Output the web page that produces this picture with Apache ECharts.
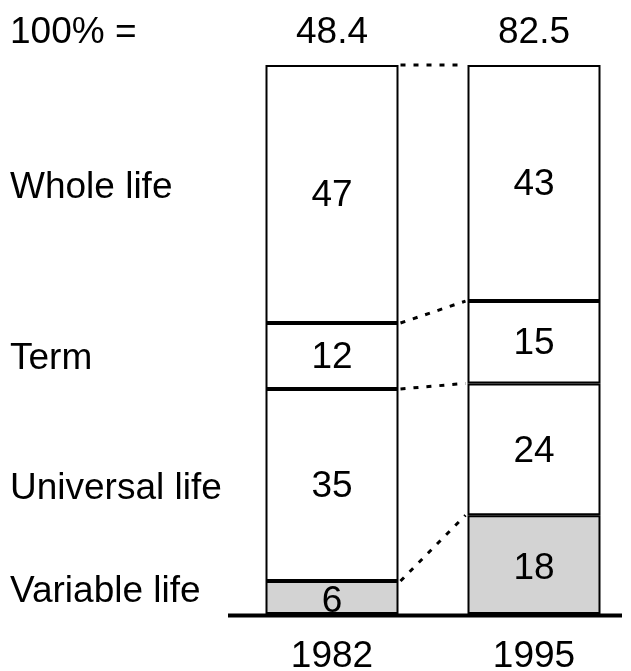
<!DOCTYPE html>
<html>
<head>
<meta charset="utf-8">
<script src="https://cdn.jsdelivr.net/npm/echarts@6/dist/echarts.min.js"></script>
<style>
  html, body { margin: 0; padding: 0; background: #fff; }
  #chart { width: 631px; height: 671px; }
</style>
</head>
<body>
<div id="chart"></div>
<script>
// Product mix of life insurance premiums, share of total (%)
const years = ['1982', '1995'];
const totals = ['48.4', '82.5'];
const segments = ['Variable life', 'Universal life', 'Term', 'Whole life'];
const variableLife = [6, 18];
const universalLife = [35, 24];
const term = [12, 15];
const wholeLife = [47, 43];
const totalLabel = '100% =';

const FONT = '"Liberation Sans", Arial, sans-serif';
const FONT_SIZE = 37;
const BAR_WIDTH = 133;
const seriesValues = [variableLife, universalLife, term, wholeLife];
const fills = ['#d3d3d3', '#ffffff', '#ffffff', '#ffffff'];

// cumulative boundaries for the dotted connectors between the two bars
const boundaries = [];
let c0 = 0, c1 = 0;
seriesValues.forEach(v => {
  c0 += v[0]; c1 += v[1];
  boundaries.push([0, c0, 1, c1]);
});

const chart = echarts.init(document.getElementById('chart'), null, { renderer: 'canvas' });

const barSeries = seriesValues.map((vals, i) => ({
  name: segments[i],
  type: 'bar',
  stack: 'share',
  barWidth: BAR_WIDTH,
  data: vals,
  itemStyle: { color: fills[i], borderColor: '#000', borderWidth: 2 },
  label: {
    show: true, position: 'inside', color: '#000',
    fontFamily: FONT, fontSize: FONT_SIZE,
    offset: [0, i === 0 ? 4 : 2]
  },
  emphasis: { disabled: true },
  z: 2
}));

chart.setOption({
  animation: false,
  backgroundColor: '#fff',
  grid: { left: 231, top: 65, width: 404, height: 549, outerBoundsMode: 'none', containLabel: false },
  xAxis: [
    {
      type: 'category', data: years, position: 'bottom',
      axisLine: { show: false }, axisTick: { show: false },
      axisLabel: { color: '#000', fontFamily: FONT, fontSize: FONT_SIZE, margin: 24 }
    },
    {
      type: 'category', data: totals, position: 'top',
      axisLine: { show: false }, axisTick: { show: false },
      axisLabel: { color: '#000', fontFamily: FONT, fontSize: FONT_SIZE, margin: 14 }
    }
  ],
  yAxis: { type: 'value', min: 0, max: 100, show: false },
  series: barSeries.concat([{
    type: 'custom',
    data: boundaries,
    encode: { x: 0, y: 1 },
    z: 3,
    renderItem: function (params, api) {
      const p1 = api.coord([api.value(0), api.value(1)]);
      const p2 = api.coord([api.value(2), api.value(3)]);
      return {
        type: 'line',
        shape: { x1: p1[0] + BAR_WIDTH / 2 + 2, y1: p1[1], x2: p2[0] - BAR_WIDTH / 2 - 2, y2: p2[1] },
        style: { stroke: '#000', lineWidth: 3, lineDash: [5, 8] }
      };
    }
  }])
});

// segment names beside the first bar, baseline rule and the "100% =" caption
const nudge = [-6, 4, 3, -6];
const gfx = [];
let cum = 0;
seriesValues.forEach((vals, i) => {
  const mid = cum + vals[0] / 2;
  cum += vals[0];
  const y = chart.convertToPixel({ gridIndex: 0 }, [0, mid])[1];
  gfx.push({
    type: 'text', x: 10, y: y + nudge[i],
    style: { text: segments[i], fill: '#000', font: FONT_SIZE + 'px ' + FONT, verticalAlign: 'middle' }
  });
});
const base = chart.convertToPixel({ gridIndex: 0 }, [0, 0])[1];
gfx.push({
  type: 'line',
  shape: { x1: 228, y1: base + 1.5, x2: 622, y2: base + 1.5 },
  style: { stroke: '#000', lineWidth: 4 }, z: 10
});
gfx.push({
  type: 'text', x: 10, y: 33,
  style: { text: totalLabel, fill: '#000', font: FONT_SIZE + 'px ' + FONT, verticalAlign: 'middle' }
});
chart.setOption({ graphic: gfx });
</script>
</body>
</html>
